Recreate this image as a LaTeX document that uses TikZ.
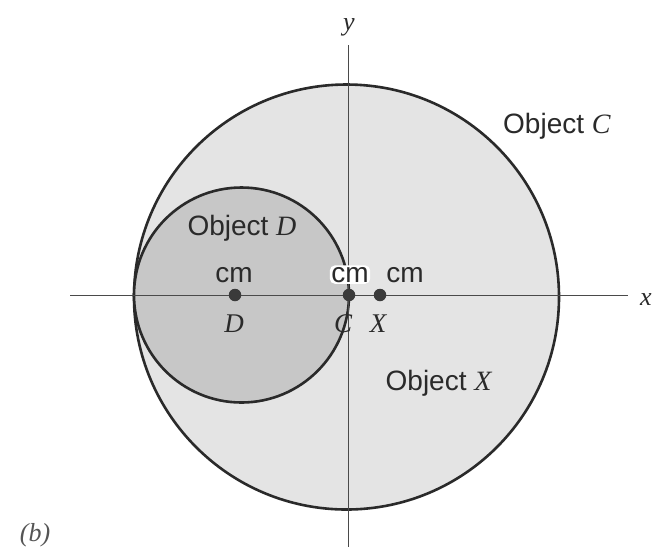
\documentclass[tikz,border=0pt]{standalone}
\usepackage{fontspec}
\setmainfont{Liberation Serif}
\setsansfont{Liberation Sans}
\definecolor{bigfill}{HTML}{E4E4E4}
\definecolor{smallfill}{HTML}{C7C7C7}
\definecolor{ink}{HTML}{2A2A2A}
\definecolor{dotc}{HTML}{3A3A3A}
\begin{document}
\begin{tikzpicture}[x=1pt,y=-1pt,
  axis/.style={draw=ink!85, line width=1.6},
  rim/.style={draw=ink, line width=2.6},
  dot/.style={circle, fill=dotc, inner sep=0pt, minimum size=12.5},
  lab/.style={text=ink, font=\fontsize{28}{32}\sffamily, anchor=base, inner sep=0pt},
  ilab/.style={text=ink, font=\fontsize{27}{31}\rmfamily\itshape, anchor=base, inner sep=0pt}]
\useasboundingbox (0,0) rectangle (660,550);
\fill[white] (0,0) rectangle (660,550);
% circles
\draw[rim, fill=bigfill] (346.5,297) circle[radius=212.5];
\draw[rim, fill=smallfill] (241.5,295) circle[radius=107.5];
% axes
\coordinate (xl) at (70,295.5);
\coordinate (xr) at (628,295.5);
\coordinate (yt) at (348.5,45);
\coordinate (yb) at (348.5,547);
\draw[axis] (xl) -- (xr);
\draw[axis] (yt) -- (yb);
% dots
\node[dot] (dD) at (235,295) {};
\node[dot] (dC) at (349,295) {};
\node[dot] (dX) at (380,295) {};
% cm labels
\node[lab] (cmD) at (234,282) {cm};
\node[lab, fill=white, inner sep=1.5pt, rounded corners=5pt] (cmC) at (350,282) {cm};
\node[lab] (cmX) at (405,282) {cm};
% point labels
\node[ilab] (lD) at (234,332) {D};
\node[ilab] (lC) at (343,332) {C};
\node[ilab] (lX) at (378,332) {X};
% object labels
\node[lab] (oC) at (557,133) {Object \textrm{\itshape C}};
\node[lab] (oD) at (242,235) {Object \textrm{\itshape D}};
\node[lab] (oX) at (439,390) {Object \textrm{\itshape X}};
% axis labels
\node[ilab, font=\fontsize{26}{30}\rmfamily\itshape] (ly) at (349,30) {y};
\node[ilab, font=\fontsize{26}{30}\rmfamily\itshape] (lx) at (646,305) {x};
\node[ilab, text=ink!80, font=\fontsize{26}{30}\rmfamily\itshape] (lb) at (35,541) {(b)};
\end{tikzpicture}
\end{document}
